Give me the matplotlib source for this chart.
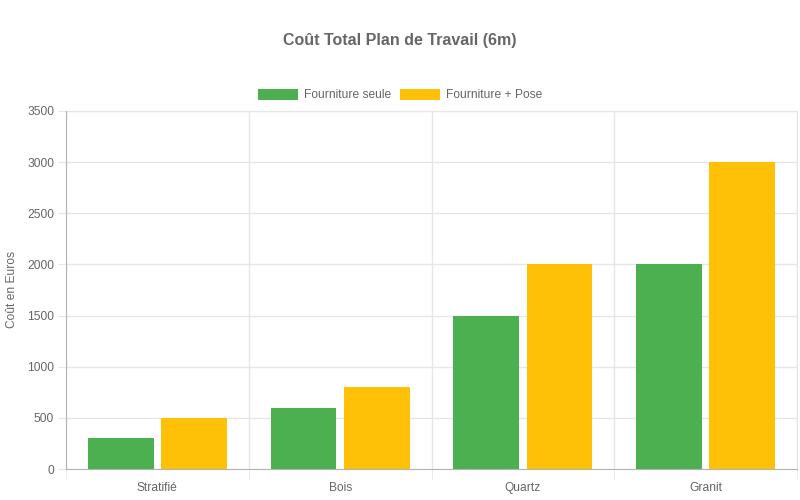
import matplotlib
matplotlib.use("Agg")
import matplotlib.pyplot as plt
from matplotlib.patches import Patch
import numpy as np

categories = ["Stratifié", "Bois", "Quartz", "Granit"]
fourniture_seule = [300, 600, 1500, 2000]
fourniture_pose = [500, 800, 2000, 3000]
series_labels = ["Fourniture seule", "Fourniture + Pose"]
colors = ["#4CAF50", "#FFC107"]

plt.rcParams['font.family'] = ['Liberation Sans', 'DejaVu Sans']
TXT = "#666666"
PX = 72 / 100

fig = plt.figure(figsize=(8, 5), dpi=100)
ax = fig.add_axes([66/800, 31/500, (797-66)/800, (469-111)/500])

x = np.arange(len(categories))
slot = 0.8 / 2
bw = slot * 0.9
ax.bar(x - slot/2, fourniture_seule, width=bw, color=colors[0], zorder=3)
ax.bar(x + slot/2, fourniture_pose, width=bw, color=colors[1], zorder=3)

ax.set_xlim(-0.5, len(categories) - 0.5)
ax.set_ylim(0, 3500)
ax.set_yticks(np.arange(0, 3501, 500))
ax.set_xticks(x)
ax.set_xticklabels(categories)
ax.set_xticks(np.arange(-0.5, len(categories), 1), minor=True)

grid_c = "#e6e6e6"
ax.grid(axis='y', which='major', color=grid_c, linewidth=1, zorder=0)
ax.grid(axis='x', which='minor', color=grid_c, linewidth=1, zorder=0)
ax.tick_params(axis='y', which='major', length=8*PX, color=grid_c, labelcolor=TXT, labelsize=12*PX, pad=4*PX)
ax.tick_params(axis='x', which='major', length=0, labelcolor=TXT, labelsize=12*PX, pad=22*PX)
ax.tick_params(axis='x', which='minor', length=10*PX, color=grid_c)
for lab in ax.get_xticklabels():
    lab.set_va('baseline')

for s in ['top', 'right']:
    ax.spines[s].set_color(grid_c)
for s in ['left', 'bottom']:
    ax.spines[s].set_color("#b3b3b3")
    ax.spines[s].set_zorder(4)

ax.set_ylabel("Coût en Euros", color=TXT, fontsize=12*PX, va='center')
ax.yaxis.set_label_coords((12 - 66) / 731, 0.5)

fig.text(0.5, 1 - 40/500, "Coût Total Plan de Travail (6m)", ha='center', va='center',
         fontsize=16*PX, fontweight='bold', color=TXT)

handles = [Patch(facecolor=c, edgecolor='none', label=l) for c, l in zip(colors, series_labels)]
fig.legend(handles=handles, loc='center', bbox_to_anchor=(0.5, 1 - 95/500), ncol=2,
           frameon=False, fontsize=12*PX, labelcolor=TXT, handlelength=40/12, handleheight=1.0,
           handletextpad=0.5, columnspacing=0.8, borderpad=0)

fig.savefig("out.png", dpi=100)
